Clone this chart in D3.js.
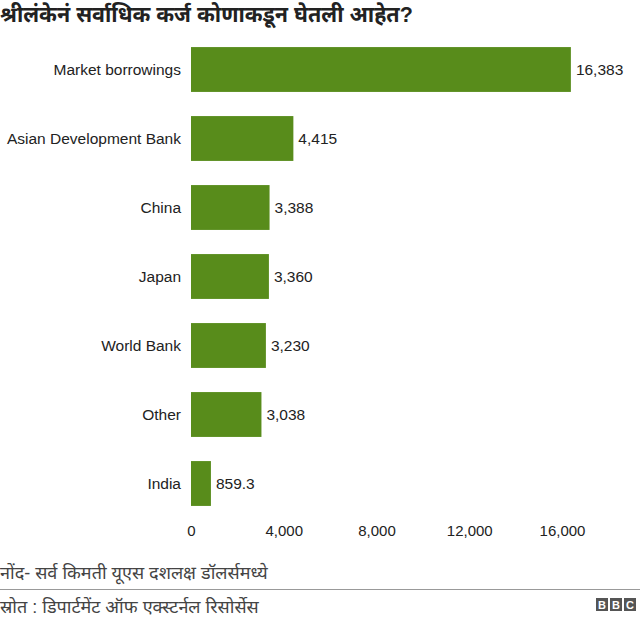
<!DOCTYPE html>
<html><head><meta charset="utf-8">
<script src="https://cdn.jsdelivr.net/npm/d3@7"></script>
<style>body{margin:0;background:#fff}text{font-family:"Liberation Sans",Arial,"Noto Sans Devanagari","Noto Sans",sans-serif}</style>
</head><body><svg id="c" width="640" height="623"></svg>
<script>
const categories=["Market borrowings","Asian Development Bank","China","Japan","World Bank","Other","India"];
const values=[16383,4415,3388,3360,3230,3038,859.3];
const valueLabels=["16,383","4,415","3,388","3,360","3,230","3,038","859.3"];
const ticks=[0,4000,8000,12000,16000];
const title="श्रीलंकेनं सर्वाधिक कर्ज कोणाकडून घेतली आहेत?";
const note="नोंद- सर्व किमती यूएस दशलक्ष डॉलर्समध्ये";
const source="स्रोत : डिपार्टमेंट ऑफ एक्स्टर्नल रिसोर्सेस";

const svg=d3.select("#c");
const x=d3.scaleLinear().domain([0,16000]).range([191,562]);
const y=d3.scaleBand().domain(categories).range([35,518]).paddingInner(0.35).paddingOuter(0.175);
const green="#588c1b";
svg.append("text").attr("x",0).attr("y",22).attr("font-size",21.5).attr("font-weight","bold").attr("fill","#222").text(title);
svg.selectAll("rect.bar").data(values).join("rect").attr("x",x(0)).attr("y",(d,i)=>y(categories[i]))
 .attr("width",d=>x(d)-x(0)).attr("height",y.bandwidth()).attr("fill",green);
svg.selectAll("text.cat").data(categories).join("text").attr("x",181).attr("y",d=>y(d)+y.bandwidth()/2)
 .attr("dy","0.35em").attr("text-anchor","end").attr("font-size",15.5).attr("fill","#222").text(d=>d);
svg.selectAll("text.val").data(values).join("text").attr("x",d=>x(d)+5).attr("y",(d,i)=>y(categories[i])+y.bandwidth()/2)
 .attr("dy","0.35em").attr("font-size",15.5).attr("fill","#222").text((d,i)=>valueLabels[i]);
const ax=svg.append("g").attr("transform","translate(0,518)").call(d3.axisBottom(x).tickValues(ticks).tickFormat(d3.format(",")).tickSize(0).tickPadding(7));
ax.select(".domain").remove();
ax.selectAll("text").attr("font-size",15).attr("fill","#222");
svg.append("text").attr("x",0).attr("y",579).attr("font-size",18).attr("fill","#444").text(note);
svg.append("line").attr("x1",0).attr("x2",640).attr("y1",589.5).attr("y2",589.5).attr("stroke","#999");
svg.append("text").attr("x",0).attr("y",613).attr("font-size",18).attr("fill","#444").text(source);
["B","B","C"].forEach((l,i)=>{
 svg.append("rect").attr("x",596+i*14).attr("y",598).attr("width",12).attr("height",13).attr("fill","#555");
 svg.append("text").attr("x",602+i*14).attr("y",609).attr("text-anchor","middle").attr("font-size",11).attr("font-weight","bold").attr("fill","#fff").text(l);
});
</script></body></html>
